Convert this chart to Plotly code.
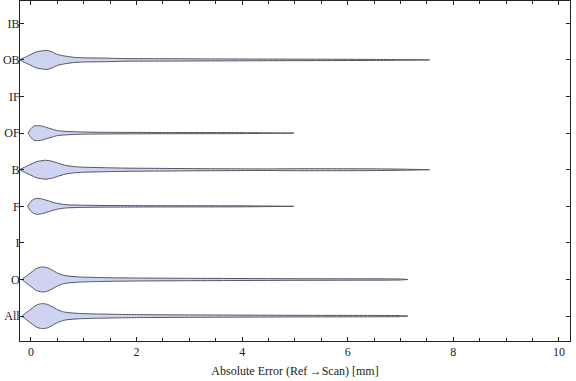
import plotly.graph_objects as go

# Categories (bottom to top)
categories = ["All", "O", "I", "F", "B", "OF", "IF", "OB", "IB"]

# Density profiles: x positions (mm) and relative density (half-width)
all_x = [-0.17, -0.1, 0.0, 0.1, 0.2, 0.3, 0.4, 0.5, 0.6, 0.7, 0.9, 1.2, 1.6, 2.0, 3.0, 4.0, 5.0, 6.0, 7.0, 7.14]
all_d = [0.0, 3.0, 7.0, 11.0, 12.5, 12.0, 9.5, 6.5, 4.5, 3.5, 2.7, 2.2, 1.8, 1.5, 1.2, 1.0, 0.8, 0.7, 0.5, 0.0]

o_x = [-0.17, -0.1, 0.0, 0.1, 0.2, 0.3, 0.4, 0.5, 0.6, 0.7, 0.9, 1.2, 1.6, 2.0, 3.0, 4.0, 5.0, 6.0, 7.0, 7.14]
o_d = [0.0, 3.0, 7.0, 11.0, 12.5, 12.0, 9.5, 6.5, 4.5, 3.5, 2.6, 2.1, 1.7, 1.5, 1.2, 1.0, 0.8, 0.7, 0.5, 0.0]

f_x = [-0.06, 0.0, 0.05, 0.11, 0.2, 0.3, 0.45, 0.6, 0.7, 0.9, 1.1, 1.5, 2.5, 4.0, 4.98]
f_d = [0.0, 5.0, 7.0, 8.0, 7.5, 6.0, 3.5, 2.0, 1.5, 1.2, 1.0, 0.8, 0.6, 0.5, 0.0]

b_x = [-0.21, -0.1, 0.0, 0.1, 0.27, 0.4, 0.5, 0.64, 0.8, 1.0, 1.4, 1.8, 2.5, 3.4, 4.5, 5.0, 6.4, 7.0, 7.55]
b_d = [0.0, 3.0, 5.5, 8.0, 9.5, 8.5, 6.8, 4.5, 3.2, 2.5, 2.0, 1.6, 1.3, 1.0, 0.8, 1.0, 0.9, 0.6, 0.0]

of_x = [-0.05, 0.0, 0.05, 0.1, 0.2, 0.3, 0.4, 0.5, 0.7, 0.9, 1.1, 1.5, 2.6, 4.0, 4.98]
of_d = [0.0, 4.5, 7.0, 7.5, 7.2, 5.5, 4.0, 2.5, 1.6, 1.2, 1.0, 0.8, 0.6, 0.5, 0.0]

ob_x = [-0.21, -0.1, 0.0, 0.1, 0.3, 0.4, 0.5, 0.65, 0.83, 1.0, 1.4, 1.8, 2.5, 3.4, 4.5, 5.5, 6.5, 7.55]
ob_d = [0.0, 3.0, 5.5, 8.0, 9.5, 8.0, 5.5, 3.8, 2.5, 2.1, 1.8, 1.3, 1.2, 1.0, 0.8, 0.7, 0.5, 0.0]

violins = {
    "All": (all_x, all_d),
    "O": (o_x, o_d),
    "F": (f_x, f_d),
    "B": (b_x, b_d),
    "OF": (of_x, of_d),
    "OB": (ob_x, ob_d),
}

x_ticks = [0, 2, 4, 6, 8, 10]

SCALE = 1.0 / 36.7  # relative density -> category units

fig = go.Figure()
for name, (xs, ds) in violins.items():
    yc = categories.index(name) + 1
    px = list(xs) + list(xs[::-1])
    py = [yc + d * SCALE for d in ds] + [yc - d * SCALE for d in ds[::-1]]
    fig.add_trace(go.Scatter(
        x=px, y=py, mode="lines", fill="toself",
        fillcolor="#cdd3f1",
        line=dict(color="#55555f", width=1, shape="spline", smoothing=0.6),
        hoverinfo="skip", showlegend=False,
    ))

fig.update_layout(
    width=576, height=381,
    margin=dict(l=20, r=6, t=1, b=40),
    paper_bgcolor="white", plot_bgcolor="white",
    font=dict(family="Liberation Serif, Times New Roman, serif", size=12, color="#222"),
    showlegend=False,
    xaxis=dict(
        range=[-0.208, 10.21],
        tickvals=x_ticks,
        ticktext=[str(v) for v in x_ticks],
        ticks="inside", ticklen=4, tickwidth=1, tickcolor="#222",
        minor=dict(dtick=0.5, tick0=0, ticks="inside", ticklen=3, tickcolor="#222", showgrid=False),
        showline=True, linecolor="#222", linewidth=1, mirror="allticks",
        showgrid=False, zeroline=False,
        title=dict(text="Absolute Error (Ref\u2009\u2192Scan) [mm]", standoff=8,
                   font=dict(size=12)),
        automargin=False,
    ),
    yaxis=dict(
        range=[0.32, 9.61],
        tickvals=list(range(1, len(categories) + 1)),
        ticktext=categories,
        ticks="inside", ticklen=4, tickwidth=1, tickcolor="#222",
        showline=True, linecolor="#222", linewidth=1, mirror="allticks",
        showgrid=False, zeroline=False,
        ticklabelstandoff=-3,
        automargin=False,
    ),
)

fig.write_html(
    "out.html",
    config={"displayModeBar": False},
    post_script="document.body.style.margin='0';document.body.style.padding='0';",
)
